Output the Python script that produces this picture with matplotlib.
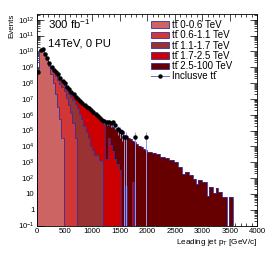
import numpy as np
import matplotlib
matplotlib.use("Agg")
import matplotlib.pyplot as plt
from matplotlib.patches import Patch
from matplotlib.lines import Line2D
from matplotlib.ticker import FixedLocator, FuncFormatter, MultipleLocator, LogLocator, NullFormatter

plt.rcParams['font.family'] = ['Liberation Sans', 'DejaVu Sans']
plt.rcParams['mathtext.fontset'] = 'custom'
plt.rcParams['mathtext.rm'] = 'Liberation Sans'
plt.rcParams['mathtext.it'] = 'Liberation Sans'

# ---------------- data (log10 of stacked totals per 40 GeV bin, starting at 0 GeV) -------------
bin_width = 40
n_bins = 100
TT = "tt\u0304"
labels = [TT + " 0-0.6 TeV", TT + " 0.6-1.1 TeV", TT + " 1.1-1.7 TeV",
          TT + " 1.7-2.5 TeV", TT + " 2.5-100 TeV"]
colors = ["#cd6464", "#d23737", "#993333", "#cc0000", "#660000"]

# stacked level: up to 0-0.6 TeV
stack1 = [8.72, 10.08, 10.02, 9.77, 9.48, 9.05, 8.6, 8.0, 7.3, 6.5, 5.7, 4.5]
# up to 0.6-1.1 TeV
stack2 = [8.74, 10.09, 10.04, 9.79, 9.51, 9.24, 8.95, 8.7, 8.45, 8.2, 7.95, 7.75,
          7.5, 7.05, 6.6, 6.1, 5.5, 4.5]
# up to 1.1-1.7 TeV
stack3 = [8.75, 10.1, 10.05, 9.8, 9.52, 9.26, 9.04, 8.86, 8.69, 8.53, 8.32, 8.14,
          7.9, 7.6, 7.3, 7.1, 6.9, 6.7, 6.45, 6.05, 5.7, 5.3, 4.9, 4.5, 4.05, 3.8,
          3.45, 3.45, 3.15, 3.1]
# up to 1.7-2.5 TeV
stack4 = [8.75, 10.1, 10.05, 9.8, 9.52, 9.26, 9.05, 8.87, 8.70, 8.55, 8.35, 8.18,
          8.0, 7.79, 7.6, 7.43, 7.25, 7.08, 6.95, 6.8, 6.67, 6.57, 6.47, 6.35, 6.24,
          6.12, 5.98, 5.85, 5.7, 5.55, 5.35, 3.2, 4.5, 4.1, 3.7, 3.2, 2.9, 2.5, None,
          None, 1.5, None, None, 1.78]
# all samples
stack5 = [8.75, 10.1, 10.05, 9.8, 9.52, 9.26, 9.05, 8.87, 8.70, 8.55, 8.35, 8.18,
          8.01, 7.80, 7.62, 7.45, 7.28, 7.12, 6.98, 6.84, 6.71, 6.61, 6.52, 6.41, 6.31,
          6.20, 6.07, 5.95, 5.82, 5.68, 5.58, 5.50, 5.42, 5.35, 5.25, 5.15, 5.05, 4.95,
          4.85, 4.75, 4.65, 4.55, 4.45, 4.35, 4.25, 4.15, 4.05, 3.95, 3.85, 3.75, 3.67,
          3.67, 3.6, 3.6, 3.5, 3.5, 3.35, 3.35, 3.27, 3.27, 3.15, 3.15, 3.04, 3.04, 2.68,
          2.68, 2.24, 2.4, 2.4, 2.2, 2.2, 1.95, 1.63, 1.9, 1.9, 1.78, 1.78, 0.87, 1.46,
          1.46, 1.04, 1.36, 1.14, 1.14, 0.83, 0.83, None, 0.83, 0.83]

# inclusive ttbar sample points (log10), per bin from 0 GeV
inclusive = [8.72, 10.08, 10.13, 9.83, 9.56, 9.28, 9.03, 8.85, 8.7, 8.55, 8.33, 8.15,
             7.98, 7.75, 7.6, 7.42, 7.3, 7.1, 6.98, 6.85, 6.72, 6.6, 6.51, 6.4, 6.28,
             6.18, 6.05, 5.95, 5.8, 5.67, 5.6, 5.56, 5.56, 5.46, 5.56, 5.35, 5.08, 4.99,
             4.89, 4.62, 4.62, None, None, None, 4.62, None, None, None, None, 4.62]
inclusive_weight_log = 4.62   # one event of the inclusive sample

# ---------------- helpers -------------
edges = np.arange(n_bins + 1) * bin_width
floor = 1e-4


def to_counts(levels):
    out = np.full(n_bins, floor)
    for i, v in enumerate(levels):
        if v is not None:
            out[i] = 10.0 ** v
    return out


stacks = [to_counts(s) for s in (stack1, stack2, stack3, stack4, stack5)]

fig = plt.figure(figsize=(2.70, 2.59), dpi=100)
ax = fig.add_axes([0.138, 0.129, 0.815, 0.817])

outline = "#3a2f9a"
for k in range(4, -1, -1):
    ax.stairs(stacks[k], edges, fill=True, baseline=floor, facecolor=colors[k],
              edgecolor="none", zorder=2 + (4 - k) * 0.1)
    ax.stairs(stacks[k], edges, fill=False, baseline=floor, edgecolor=outline,
              linewidth=0.6, zorder=2.05 + (4 - k) * 0.1)

# inclusive points with error bars
centers = 0.5 * (edges[:-1] + edges[1:])
xs, ys, lo, hi = [], [], [], []
w = 10 ** inclusive_weight_log
for i, v in enumerate(inclusive):
    if v is None:
        continue
    val = 10 ** v
    n = val / w
    err = val / np.sqrt(max(n, 1e-9)) if n < 1e3 else 0.0
    xs.append(centers[i]); ys.append(val)
    lo.append(min(err, val - floor)); hi.append(err)
ax.errorbar(xs, ys, yerr=[lo, hi], fmt='o', color='black', ms=2.2,
            ecolor="#9a9ae8", elinewidth=0.7, capsize=0, zorder=5)

ax.set_yscale('log')
ax.set_xlim(0, 4000)
ax.set_ylim(0.1, 2.3e12)

ax.xaxis.set_major_locator(MultipleLocator(500))
ax.xaxis.set_minor_locator(MultipleLocator(100))
ax.yaxis.set_major_locator(FixedLocator([10.0 ** e for e in range(-1, 13)]))
ax.yaxis.set_minor_locator(LogLocator(base=10, subs=np.arange(2, 10), numticks=50))
ax.yaxis.set_minor_formatter(NullFormatter())


def yfmt(v, pos):
    e = int(round(np.log10(v)))
    if e == 0:
        return "1"
    if e == 1:
        return "10"
    return r"$\mathregular{10^{%d}}$" % e


ax.yaxis.set_major_formatter(FuncFormatter(yfmt))
ax.tick_params(which='both', direction='in', top=True, right=True, labelsize=5.6,
               width=0.5, pad=2)
ax.tick_params(which='major', length=5)
ax.tick_params(which='minor', length=2.5)
for s in ax.spines.values():
    s.set_linewidth(0.6)

ax.set_xlabel("Leading jet p$_\\mathregular{T}$ [GeV/c]", fontsize=5.9, ha='right',
              x=1.0, labelpad=1)
ax.set_ylabel("Events", fontsize=5.8, ha='right', y=1.0, labelpad=2)

ax.text(0.05, 0.985, "300 fb$^{\\mathregular{-1}}$", transform=ax.transAxes,
        fontsize=8.2, va='top', ha='left')
ax.text(0.05, 0.885, "14TeV, 0 PU", transform=ax.transAxes, fontsize=8.2,
        va='top', ha='left')

handles = [Patch(facecolor=colors[k], edgecolor=outline, linewidth=0.6) for k in range(5)]
handles.append(Line2D([0], [0], color="#6a6ad8", lw=0.7, marker='o', ms=2.2,
                      markerfacecolor='black', markeredgecolor='black'))
leg_labels = labels + ["Inclusve " + TT]
ax.legend(handles, leg_labels, loc='upper left', bbox_to_anchor=(0.5, 0.99),
          fontsize=7.0, frameon=False, handlelength=1.8, handleheight=0.62,
          labelspacing=0.03, handletextpad=0.3, borderaxespad=0.0)

fig.savefig("out.png", dpi=100)
